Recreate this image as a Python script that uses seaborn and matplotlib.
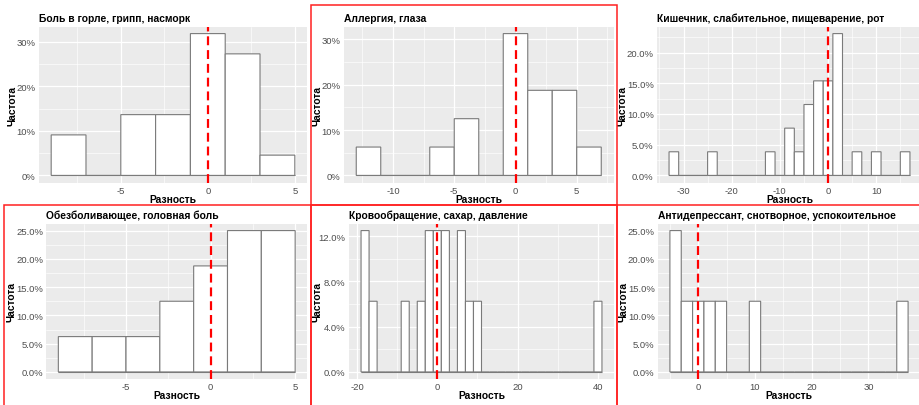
import numpy as np
import matplotlib
matplotlib.use("Agg")
import matplotlib.pyplot as plt
from matplotlib.patches import Rectangle
from matplotlib.ticker import MultipleLocator, PercentFormatter
import seaborn as sns

# Bin centres (width 2) and counts of the difference per drug group
sore_throat_centers = [-8, -6, -4, -2, 0, 2, 4]
sore_throat_counts = [2, 0, 3, 3, 7, 6, 1]

allergy_centers = [-12, -10, -8, -6, -4, -2, 0, 2, 4, 6]
allergy_counts = [1, 0, 0, 1, 2, 0, 5, 3, 3, 1]

gut_centers = [-32, -30, -28, -26, -24, -22, -20, -18, -16, -14, -12, -10, -8,
               -6, -4, -2, 0, 2, 4, 6, 8, 10, 12, 14, 16]
gut_counts = [1, 0, 0, 0, 1, 0, 0, 0, 0, 0, 1, 0, 2,
              1, 3, 4, 4, 6, 0, 1, 0, 1, 0, 0, 1]

pain_centers = [-8, -6, -4, -2, 0, 2, 4]
pain_counts = [1, 1, 1, 2, 3, 4, 4]

blood_centers = [-18, -16, -14, -12, -10, -8, -6, -4, -2, 0, 2, 4, 6, 8, 10,
                 12, 14, 16, 18, 20, 22, 24, 26, 28, 30, 32, 34, 36, 38, 40]
blood_counts = [2, 1, 0, 0, 0, 1, 0, 1, 2, 2, 2, 0, 2, 1, 1,
                0, 0, 0, 0, 0, 0, 0, 0, 0, 0, 0, 0, 0, 0, 1]

sleep_centers = [-4, -2, 0, 2, 4, 6, 8, 10, 12, 14, 16, 18, 20, 22, 24, 26,
                 28, 30, 32, 34, 36]
sleep_counts = [2, 1, 1, 1, 1, 0, 0, 1, 0, 0, 0, 0, 0, 0, 0, 0,
                0, 0, 0, 0, 1]

titles = [
    "Боль в горле, грипп, насморк",
    "Аллергия, глаза",
    "Кишечник, слабительное, пищеварение, рот",
    "Обезболивающее, головная боль",
    "Кровообращение, сахар, давление",
    "Антидепрессант, снотворное, успокоительное",
]
x_label = "Разность"
y_label = "Частота"

sns.set_theme(style="darkgrid")
plt.rcParams["font.family"] = ["Liberation Sans", "DejaVu Sans"]
plt.rcParams["axes.unicode_minus"] = False

W, H = 920, 406
fig = plt.figure(figsize=(W / 100, H / 100), dpi=100)
fig.patch.set_facecolor("white")


def add_panel(left, right, top, bottom):
    return fig.add_axes([left / W, 1 - bottom / H, (right - left) / W, (bottom - top) / H])


panels = [
    # centers, counts, (left, right, top, bottom), x step, y step, decimals, ylabel x
    (sore_throat_centers, sore_throat_counts, (39, 307, 27.5, 183.5), 5, 10, 0, 12),
    (allergy_centers, allergy_counts, (344, 613.5, 27.5, 183.5), 5, 10, 0, 318),
    (gut_centers, gut_counts, (657, 922, 27.5, 183.5), 10, 5, 1, 623),
    (pain_centers, pain_counts, (46.5, 307, 224.5, 380), 5, 5, 1, 12),
    (blood_centers, blood_counts, (349, 614, 224.5, 380), 20, 4, 1, 318),
    (sleep_centers, sleep_counts, (658, 920, 224.5, 380), 10, 5, 1, 624),
]

for (centers, counts, box, xstep, ystep, dec, ylab_x), title in zip(panels, titles):
    left, right, top, bottom = box
    ax = add_panel(left, right, top, bottom)
    ax.set_facecolor("#EBEBEB")
    lo, hi = centers[0] - 1, centers[-1] + 1
    sns.histplot(x=centers, weights=counts, binwidth=2, binrange=(lo, hi),
                 stat="percent", color="white", edgecolor="#7A7A7A",
                 linewidth=0.8, alpha=1, ax=ax, zorder=3)
    for p in ax.patches:
        p.set_snap(False)
    # empty bins show up as a flat outline along zero
    ax.hlines(0, lo, hi, color="#7A7A7A", linewidth=0.8, zorder=2.9)
    ax.axvline(0, color="#FF0000", linewidth=1.6, dashes=(4, 2.2), zorder=4)

    pad = 0.05 * (hi - lo)
    ax.set_xlim(lo - pad, hi + pad)
    ymax = 100 * max(counts) / sum(counts)
    ax.set_ylim(-0.05 * ymax, 1.05 * ymax)

    ax.xaxis.set_major_locator(MultipleLocator(xstep))
    ax.xaxis.set_minor_locator(MultipleLocator(xstep / 2))
    ax.yaxis.set_major_locator(MultipleLocator(ystep))
    ax.yaxis.set_minor_locator(MultipleLocator(ystep / 2))
    ax.yaxis.set_major_formatter(PercentFormatter(100, decimals=dec))
    ax.grid(which="major", color="white", linewidth=0.9, zorder=0)
    ax.grid(which="minor", color="white", linewidth=0.45, zorder=0)
    ax.set_axisbelow(True)
    for s in ax.spines.values():
        s.set_visible(False)
    ax.tick_params(which="major", length=1.6, width=0.6, color="#555555",
                   labelsize=6.8, labelcolor="#4D4D4D", pad=0.8)
    ax.tick_params(which="minor", length=0)

    ax.set_xlabel(x_label, fontsize=7.4, fontweight="bold", color="black")
    ax.set_ylabel(y_label, fontsize=7.4, fontweight="bold", color="black")
    ax.xaxis.label.set_va("center")
    ax.yaxis.label.set_va("center")
    height = bottom - top
    width = right - left
    ax.xaxis.set_label_coords(0.5, -16.5 / height)
    ax.yaxis.set_label_coords((ylab_x - left) / width, 0.5)
    ax.set_title(title, loc="left", fontsize=7.4, fontweight="bold",
                 color="black", pad=4)

# Red frames grouping the panels
frame_boxes = [(311, 6, 617, 206), (4, 206, 311, 412), (311, 206, 617, 412),
               (617, 206, 926, 412)]
for x0, y0, x1, y1 in frame_boxes:
    fig.add_artist(Rectangle((x0 / W, 1 - y1 / H), (x1 - x0) / W, (y1 - y0) / H,
                             transform=fig.transFigure, fill=False,
                             edgecolor="#FF2020", linewidth=1.1, zorder=10))

fig.savefig("out.png", dpi=100, facecolor="white")
